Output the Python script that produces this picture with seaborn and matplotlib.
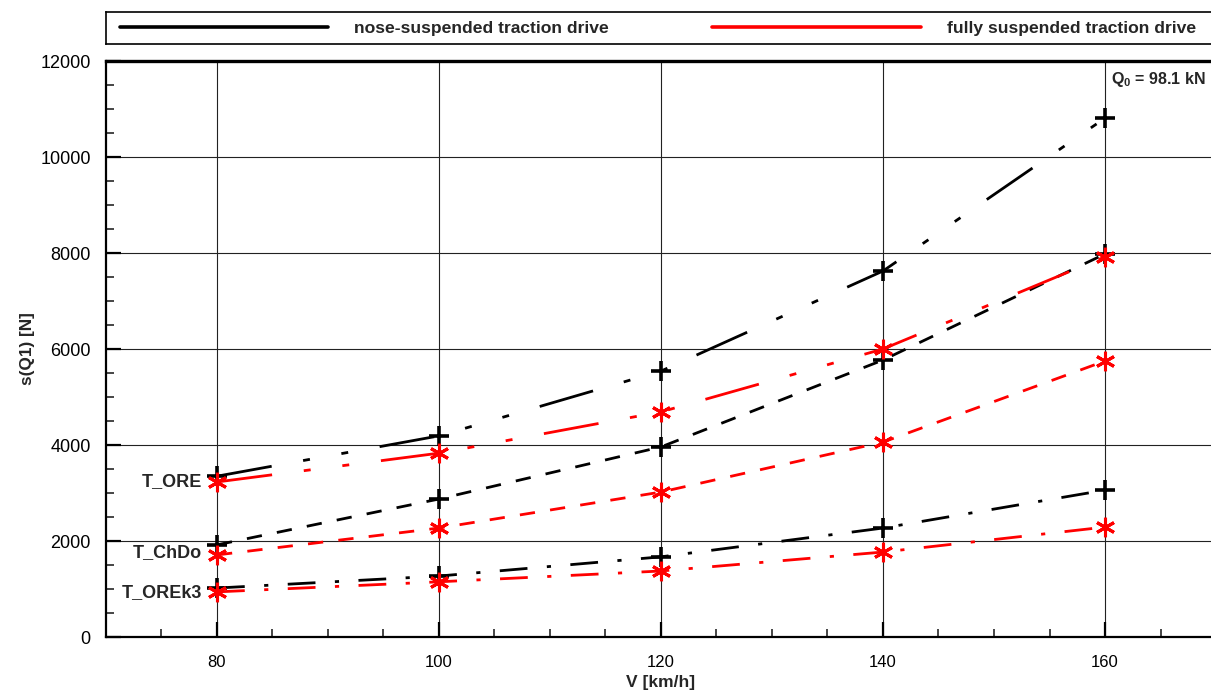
import matplotlib
matplotlib.use("Agg")
import matplotlib.pyplot as plt
from matplotlib.lines import Line2D
from matplotlib.ticker import MultipleLocator
import numpy as np
import pandas as pd
import seaborn as sns

# Speeds [km/h]
speeds = [80, 100, 120, 140, 160]

# Standard deviation of the wheel force s(Q1) [N] per track and drive type
ore_nose = [3350, 4190, 5540, 7625, 10810]
ore_fully = [3230, 3830, 4690, 6000, 7920]
chdo_nose = [1920, 2875, 3960, 5770, 7980]
chdo_fully = [1710, 2270, 3020, 4060, 5750]
orek3_nose = [1020, 1270, 1670, 2270, 3060]
orek3_fully = [940, 1150, 1375, 1770, 2290]

tracks = ["T_ORE", "T_ChDo", "T_OREk3"]
drives = ["nose-suspended traction drive", "fully suspended traction drive"]
drive_colors = {drives[0]: "black", drives[1]: "#ff0000"}
drive_markers = {drives[0]: "+", drives[1]: (6, 2, 0)}
load_label = r"Q$_\mathbf{0}$ = 98.1 kN"

series = {
    (drives[0], "T_ORE"): ore_nose,
    (drives[1], "T_ORE"): ore_fully,
    (drives[0], "T_ChDo"): chdo_nose,
    (drives[1], "T_ChDo"): chdo_fully,
    (drives[0], "T_OREk3"): orek3_nose,
    (drives[1], "T_OREk3"): orek3_fully,
}

rows = []
for (drive, track), vals in series.items():
    for v, s in zip(speeds, vals):
        rows.append({"V": v, "s": s, "drive": drive, "track": track})
df = pd.DataFrame(rows)

sns.set_theme(style="white")
plt.rcParams["font.family"] = ["Liberation Sans", "DejaVu Sans"]
plt.rcParams["lines.scale_dashes"] = False
plt.rcParams["mathtext.fontset"] = "custom"
plt.rcParams["mathtext.rm"] = "Liberation Sans"
plt.rcParams["mathtext.bf"] = "Liberation Sans:bold"

# dash patterns in points
track_dashes = {
    "T_ORE": (40, 23, 5, 23, 5, 23),
    "T_ChDo": (11, 11),
    "T_OREk3": (20, 14, 3, 14),
}

fig = plt.figure(figsize=(12.11, 6.91), dpi=100)
ax = fig.add_axes([106 / 1211, 54 / 691, 1110 / 1211, 576 / 691])

for drive in drives:
    sub = df[df["drive"] == drive]
    sns.lineplot(
        data=sub, x="V", y="s", style="track", style_order=tracks,
        dashes=track_dashes,
        markers={t: drive_markers[drive] for t in tracks},
        color=drive_colors[drive], linewidth=2.0,
        markersize=15 if drive == drives[0] else 14,
        markeredgewidth=2.6 if drive == drives[0] else 2.2,
        markeredgecolor=drive_colors[drive],
        legend=False, ax=ax, zorder=3, clip_on=False,
    )

ax.set_xlim(70, 170)
ax.set_ylim(0, 12000)
ax.xaxis.set_major_locator(MultipleLocator(20))
ax.xaxis.set_minor_locator(MultipleLocator(5))
ax.yaxis.set_major_locator(MultipleLocator(2000))
ax.yaxis.set_minor_locator(MultipleLocator(500))
ax.set_xticks([80, 100, 120, 140, 160])

ax.grid(which="major", color="#222222", linewidth=0.8)
ax.set_axisbelow(True)
ax.tick_params(which="major", direction="in", length=11, width=1.6,
               colors="black", bottom=True, left=True)
ax.tick_params(which="minor", direction="in", length=6, width=1.2,
               bottom=True, left=True)
ax.tick_params(axis="x", which="major", labelsize=12, pad=13)
ax.tick_params(axis="y", which="major", labelsize=13, pad=11)
for name, sp in ax.spines.items():
    sp.set_color("black")
ax.spines["left"].set_linewidth(1.6)
ax.spines["bottom"].set_linewidth(1.6)
ax.spines["top"].set_linewidth(2.4)
ax.spines["right"].set_visible(False)

ax.set_xlabel("V [km/h]", fontsize=12.5, fontweight="bold", labelpad=3.5)
ax.set_ylabel("s(Q1) [N]", fontsize=12.4, fontweight="bold", labelpad=4)

# track names beside the first measured point
for track in tracks:
    y0 = np.mean([series[(d, track)][0] for d in drives])
    ax.annotate(track, xy=(speeds[0], y0), xytext=(-11, -2),
                textcoords="offset points", ha="right", va="center",
                fontsize=13, fontweight="bold")

ax.annotate(load_label, xy=(160, 12000), xytext=(4, -13),
            textcoords="offset points", ha="left", va="center",
            fontsize=11.5, fontweight="bold", annotation_clip=False)

# legend box above the plot
lax = fig.add_axes([106 / 1211, (691 - 44) / 691, 1110 / 1211, 32 / 691])
lax.set_xticks([])
lax.set_yticks([])
for sp in lax.spines.values():
    sp.set_color("black")
    sp.set_linewidth(1.2)
handles = [Line2D([], [], color=drive_colors[d], linewidth=2.6) for d in drives]
lax.legend(handles, drives, ncol=2, loc="center left", frameon=False,
           prop={"weight": "bold", "size": 12.6},
           handlelength=11.9, handletextpad=1.5, columnspacing=5.9,
           borderaxespad=0.0, borderpad=0.0, bbox_to_anchor=(0.0126, 0.5))

fig.savefig("out.png", dpi=100)
